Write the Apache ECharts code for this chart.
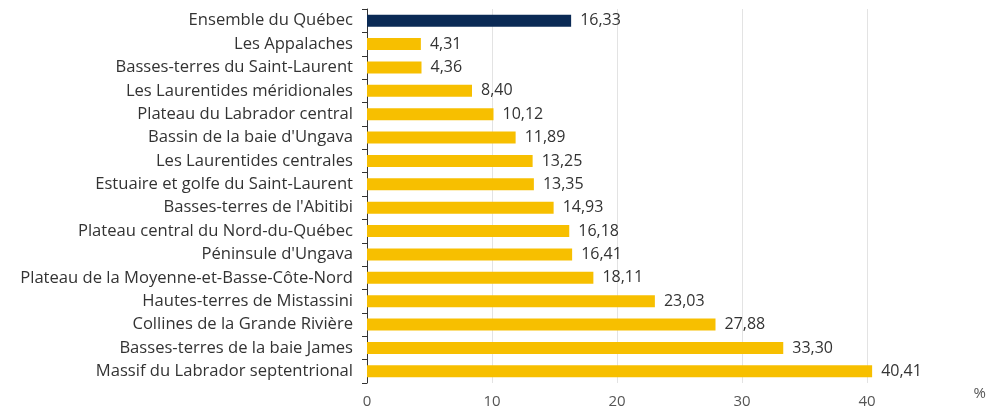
<!DOCTYPE html>
<html>
<head>
<meta charset="utf-8">
<script src="https://cdn.jsdelivr.net/npm/echarts@6/dist/echarts.min.js"></script>
<style>
  html, body { margin: 0; padding: 0; background: #fff; }
  #chart { width: 986px; height: 412px; }
</style>
</head>
<body>
<div id="chart"></div>
<script>
// Natural provinces of Québec, share in percent
const regions = [
  "Ensemble du Québec",
  "Les Appalaches",
  "Basses-terres du Saint-Laurent",
  "Les Laurentides méridionales",
  "Plateau du Labrador central",
  "Bassin de la baie d'Ungava",
  "Les Laurentides centrales",
  "Estuaire et golfe du Saint-Laurent",
  "Basses-terres de l'Abitibi",
  "Plateau central du Nord-du-Québec",
  "Péninsule d'Ungava",
  "Plateau de la Moyenne-et-Basse-Côte-Nord",
  "Hautes-terres de Mistassini",
  "Collines de la Grande Rivière",
  "Basses-terres de la baie James",
  "Massif du Labrador septentrional"
];
const values = [16.33, 4.31, 4.36, 8.40, 10.12, 11.89, 13.25, 13.35, 14.93, 16.18, 16.41, 18.11, 23.03, 27.88, 33.30, 40.41];
const totalLabel = "Ensemble du Québec";
const unitLabel = "%";

const FONT = "'Open Sans', sans-serif";
const fmt = v => v.toFixed(2).replace('.', ',');

const chart = echarts.init(document.getElementById('chart'));
chart.setOption({
  animation: false,
  textStyle: { fontFamily: FONT },
  grid: { left: 367, top: 9, width: 625, bottom: 29, containLabel: false, outerBoundsMode: 'none' },
  xAxis: {
    type: 'value',
    min: 0,
    max: 50,
    interval: 10,
    axisLine: { show: false },
    axisTick: { show: false },
    splitLine: { lineStyle: { color: '#e3e3e3', width: 1 } },
    axisLabel: { color: '#555', fontSize: 15, fontFamily: FONT, margin: 11, showMaxLabel: false }
  },
  yAxis: {
    type: 'category',
    inverse: true,
    data: regions,
    axisLine: { show: true, lineStyle: { color: '#333', width: 1 } },
    axisTick: { show: true, length: 5, lineStyle: { color: '#333' } },
    axisLabel: { color: '#333', fontSize: 16.6, fontFamily: FONT, margin: 14 }
  },
  series: [{
    type: 'bar',
    barWidth: 12,
    data: values.map((v, i) => ({
      value: v,
      itemStyle: { color: regions[i] === totalLabel ? '#0b2a55' : '#f7bf00' }
    })),
    label: {
      show: true,
      position: 'right',
      distance: 9,
      color: '#333',
      fontSize: 16,
      fontFamily: FONT,
      formatter: p => fmt(p.value)
    }
  }],
  graphic: [{
    type: 'text',
    right: 0,
    top: 386,
    style: { text: unitLabel, fill: '#555', font: '15px ' + FONT }
  }]
});
</script>
</body>
</html>
